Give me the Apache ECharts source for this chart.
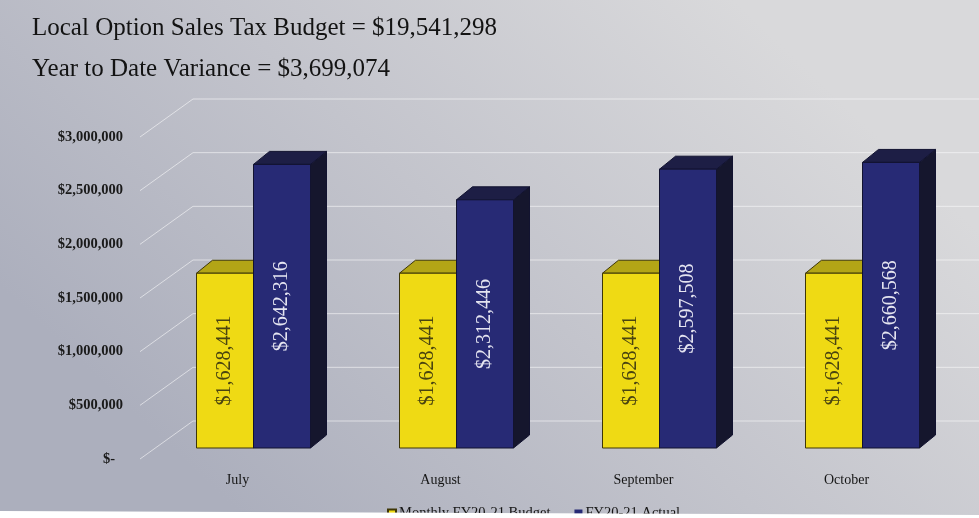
<!DOCTYPE html>
<html>
<head>
<meta charset="utf-8">
<script src="https://cdn.jsdelivr.net/npm/echarts@6/dist/echarts.min.js"></script>
<style>
  html, body { margin: 0; padding: 0; background: #ffffff; }
  #chart { width: 979px; height: 518px; }
</style>
</head>
<body>
<div id="chart"></div>
<script>
// Monthly local option sales tax: budget vs. actual receipts
const months = ['July', 'August', 'September', 'October'];
const budget = [1628441, 1628441, 1628441, 1628441];
const actual = [2642316, 2312446, 2597508, 2660568];
const yTicks = [0, 500000, 1000000, 1500000, 2000000, 2500000, 3000000];
const seriesNames = ['Monthly FY20-21 Budget', 'FY20-21 Actual'];
const headline = ['Local Option Sales Tax Budget = $19,541,298', 'Year to Date Variance = $3,699,074'];

// Pseudo-3D projection settings (pixels)
const WALL = { dx: 53, dy: -38 };       // floor front edge -> back wall
const BAR_SHIFT = { dx: 16, dy: -11 };  // bar front plane relative to floor front
const BAR_DEPTH = { dx: 16, dy: -13 };  // bar thickness
const BAR_W = 57;

const SERIF = '"Liberation Serif", "Times New Roman", serif';

function money(v) {
  if (v === 0) return '$-';
  return '$' + String(v).replace(/\B(?=(\d{3})+(?!\d))/g, ',');
}

const PALETTE = [
  { front: '#efda14', top: '#b3a516', side: '#8a7e0c', edge: '#3e3606', label: '#4a4410', slot: 0 },
  { front: '#272a75', top: '#1d1e45', side: '#15162d', edge: '#121330', label: '#e4e4f0', slot: 1 }
];

function barRenderer(pal) {
  return function (params, api) {
    const cat = api.value(0);
    const v = api.value(1);
    const base = api.coord([cat, 0]);
    const top = api.coord([cat, v]);
    const cx = base[0] + BAR_SHIFT.dx;
    const x0 = pal.slot === 0 ? cx - BAR_W : cx;
    const x1 = x0 + BAR_W;
    const yb = base[1] + BAR_SHIFT.dy;
    const yt = top[1] + BAR_SHIFT.dy;
    const dx = BAR_DEPTH.dx, dy = BAR_DEPTH.dy;
    return {
      type: 'group',
      children: [
        { type: 'polygon',
          shape: { points: [[x1, yb], [x1 + dx, yb + dy], [x1 + dx, yt + dy], [x1, yt]] },
          style: { fill: pal.side, stroke: pal.edge, lineWidth: 1 } },
        { type: 'polygon',
          shape: { points: [[x0, yt], [x0 + dx, yt + dy], [x1 + dx, yt + dy], [x1, yt]] },
          style: { fill: pal.top, stroke: pal.edge, lineWidth: 1 } },
        { type: 'rect',
          shape: { x: x0, y: yt, width: BAR_W, height: yb - yt },
          style: { fill: pal.front, stroke: pal.edge, lineWidth: 1 } },
        { type: 'text',
          x: (x0 + x1) / 2, y: (yt + yb) / 2, rotation: Math.PI / 2,
          style: { text: money(v), align: 'center', verticalAlign: 'middle',
                   font: '20px ' + SERIF, fill: pal.label } }
      ]
    };
  };
}

const chart = echarts.init(document.getElementById('chart'), null, { renderer: 'canvas' });

chart.setOption({
  animation: false,
  backgroundColor: {
    type: 'linear', x: 0.75, y: 0, x2: 0.25, y2: 1,
    colorStops: [
      { offset: 0, color: '#d9d9db' },
      { offset: 0.5, color: '#c3c4cc' },
      { offset: 1, color: '#acafbd' }
    ]
  },
  graphic: [
    { type: 'text', left: 32, top: 16, z: 10,
      style: { text: headline[0], font: '25px ' + SERIF, fill: '#131313' } },
    { type: 'text', left: 32, top: 57, z: 10,
      style: { text: headline[1], font: '25px ' + SERIF, fill: '#131313' } },
    { type: 'polygon', z: 20, silent: true,
      shape: { points: [[0, 511], [979, 515], [979, 518], [0, 518]] },
      style: { fill: '#ffffff' } }
  ],
  legend: {
    data: seriesNames,
    left: 382, top: 501,
    itemWidth: 8, itemHeight: 8, itemGap: 24,
    icon: 'rect',
    textStyle: { fontFamily: SERIF, fontSize: 14.5, color: '#151515', padding: [0, 0, 0, -2] }
  },
  grid: { left: 136, right: 31, top: 137, bottom: 59 },
  xAxis: {
    type: 'category', data: months,
    axisLine: { show: false }, axisTick: { show: false },
    axisLabel: { margin: 14, fontFamily: SERIF, fontSize: 14, color: '#151515' }
  },
  yAxis: {
    type: 'value', min: 0, max: 3000000, interval: 500000,
    axisLine: { show: false }, axisTick: { show: false }, splitLine: { show: false },
    axisLabel: {
      margin: 13, fontFamily: SERIF, fontSize: 14.5, fontWeight: 'bold', color: '#1a1a1a',
      formatter: v => (v === 0 ? '{z|$-}' : money(v)),
      rich: { z: { padding: [0, 8, 0, 0], fontFamily: SERIF, fontSize: 14.5, fontWeight: 'bold', color: '#1a1a1a' } }
    }
  },
  series: [
    {
      // side wall + back wall gridlines
      type: 'custom', silent: true, z: 1,
      data: yTicks.map(v => [0, v]),
      encode: { x: 0, y: 1 },
      renderItem: function (params, api) {
        const cs = params.coordSys;
        const y = api.coord([0, api.value(1)])[1];
        const x0 = cs.x + 4;
        return {
          type: 'polyline',
          shape: { points: [[x0, y], [x0 + WALL.dx, y + WALL.dy], [api.getWidth(), y + WALL.dy]] },
          style: { stroke: 'rgba(255,255,255,0.55)', lineWidth: 1, fill: null }
        };
      }
    },
    {
      name: seriesNames[0], type: 'custom', z: 2,
      itemStyle: { color: PALETTE[0].front, borderColor: PALETTE[0].edge, borderWidth: 1 },
      data: budget.map((v, i) => [i, v]),
      encode: { x: 0, y: 1 },
      renderItem: barRenderer(PALETTE[0])
    },
    {
      name: seriesNames[1], type: 'custom', z: 3,
      itemStyle: { color: PALETTE[1].front },
      data: actual.map((v, i) => [i, v]),
      encode: { x: 0, y: 1 },
      renderItem: barRenderer(PALETTE[1])
    }
  ]
});
</script>
</body>
</html>
